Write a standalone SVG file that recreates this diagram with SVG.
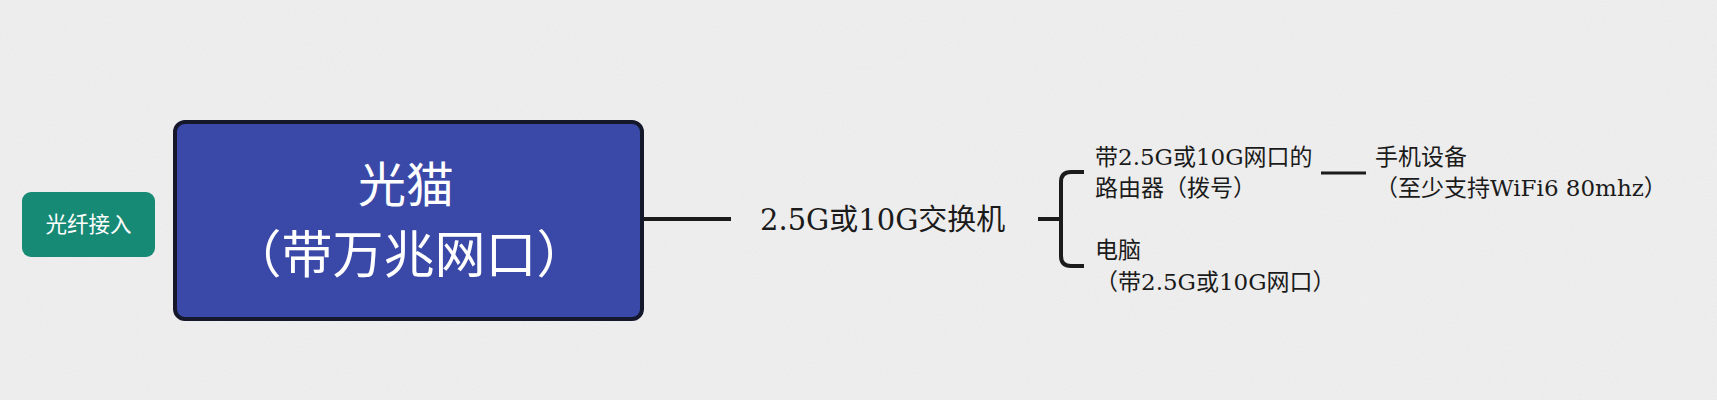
<svg xmlns="http://www.w3.org/2000/svg" width="1717" height="400" viewBox="0 0 1717 400">
<defs>
<filter id="grain" x="0" y="0" width="100%" height="100%">
<feTurbulence type="fractalNoise" baseFrequency="0.9" numOctaves="2" seed="3" result="n"/>
<feColorMatrix type="matrix" values="0 0 0 0 0  0 0 0 0 0  0 0 0 0 0  0 0 0 0.035 0"/>
</filter>
<style>
.sans{font-family:"Noto Sans CJK SC","Noto Sans",sans-serif;}
.mix{font-family:"DejaVu Serif","Noto Sans CJK SC",serif;fill:#1b1b1b;}
.ln{stroke:#1b1b1b;stroke-width:4;fill:none;stroke-linecap:butt;}
</style>
</defs>
<rect width="1717" height="400" fill="#f1f1f1"/>
<rect width="1717" height="400" filter="url(#grain)"/>
<g id="connectors">
<line class="ln" x1="644" y1="219" x2="731" y2="219"/>
<line class="ln" x1="1038" y1="219" x2="1061" y2="219"/>
<path class="ln" d="M1084 172 H1071 Q1061 172 1061 182 V256 Q1061 266 1071 266 H1084"/>
<line class="ln" x1="1321" y1="173" x2="1366" y2="173" style="stroke-width:3"/>
</g>
<g id="fiber">
<rect x="22" y="192" width="133" height="65" rx="9" fill="#178a75"/>
<text class="sans" x="88.5" y="232" font-size="21.5" fill="#ffffff" text-anchor="middle">光纤接入</text>
</g>
<g id="modem">
<rect x="175" y="122" width="467" height="197" rx="10" fill="#3a49a8" stroke="#15172a" stroke-width="4"/>
<text class="sans" x="406" y="202" font-size="48" fill="#ffffff" text-anchor="middle">光猫</text>
<text class="sans" x="409" y="273" font-size="51" fill="#ffffff" text-anchor="middle">（带万兆网口）</text>
</g>
<g id="switch">
<text class="mix" x="760" y="230" font-size="29">2.5G或10G交换机</text>
</g>
<g id="router">
<text class="mix" x="1095" y="165" font-size="23">带2.5G或10G网口的</text>
<text class="mix" x="1095" y="196" font-size="23">路由器（拨号）</text>
</g>
<g id="phone">
<text class="mix" x="1375" y="165" font-size="23">手机设备</text>
<text class="mix" x="1375" y="196" font-size="23">（至少支持WiFi6 80mhz）</text>
</g>
<g id="pc">
<text class="mix" x="1095" y="258" font-size="23">电脑</text>
<text class="mix" x="1095" y="290" font-size="23">（带2.5G或10G网口）</text>
</g>
</svg>
